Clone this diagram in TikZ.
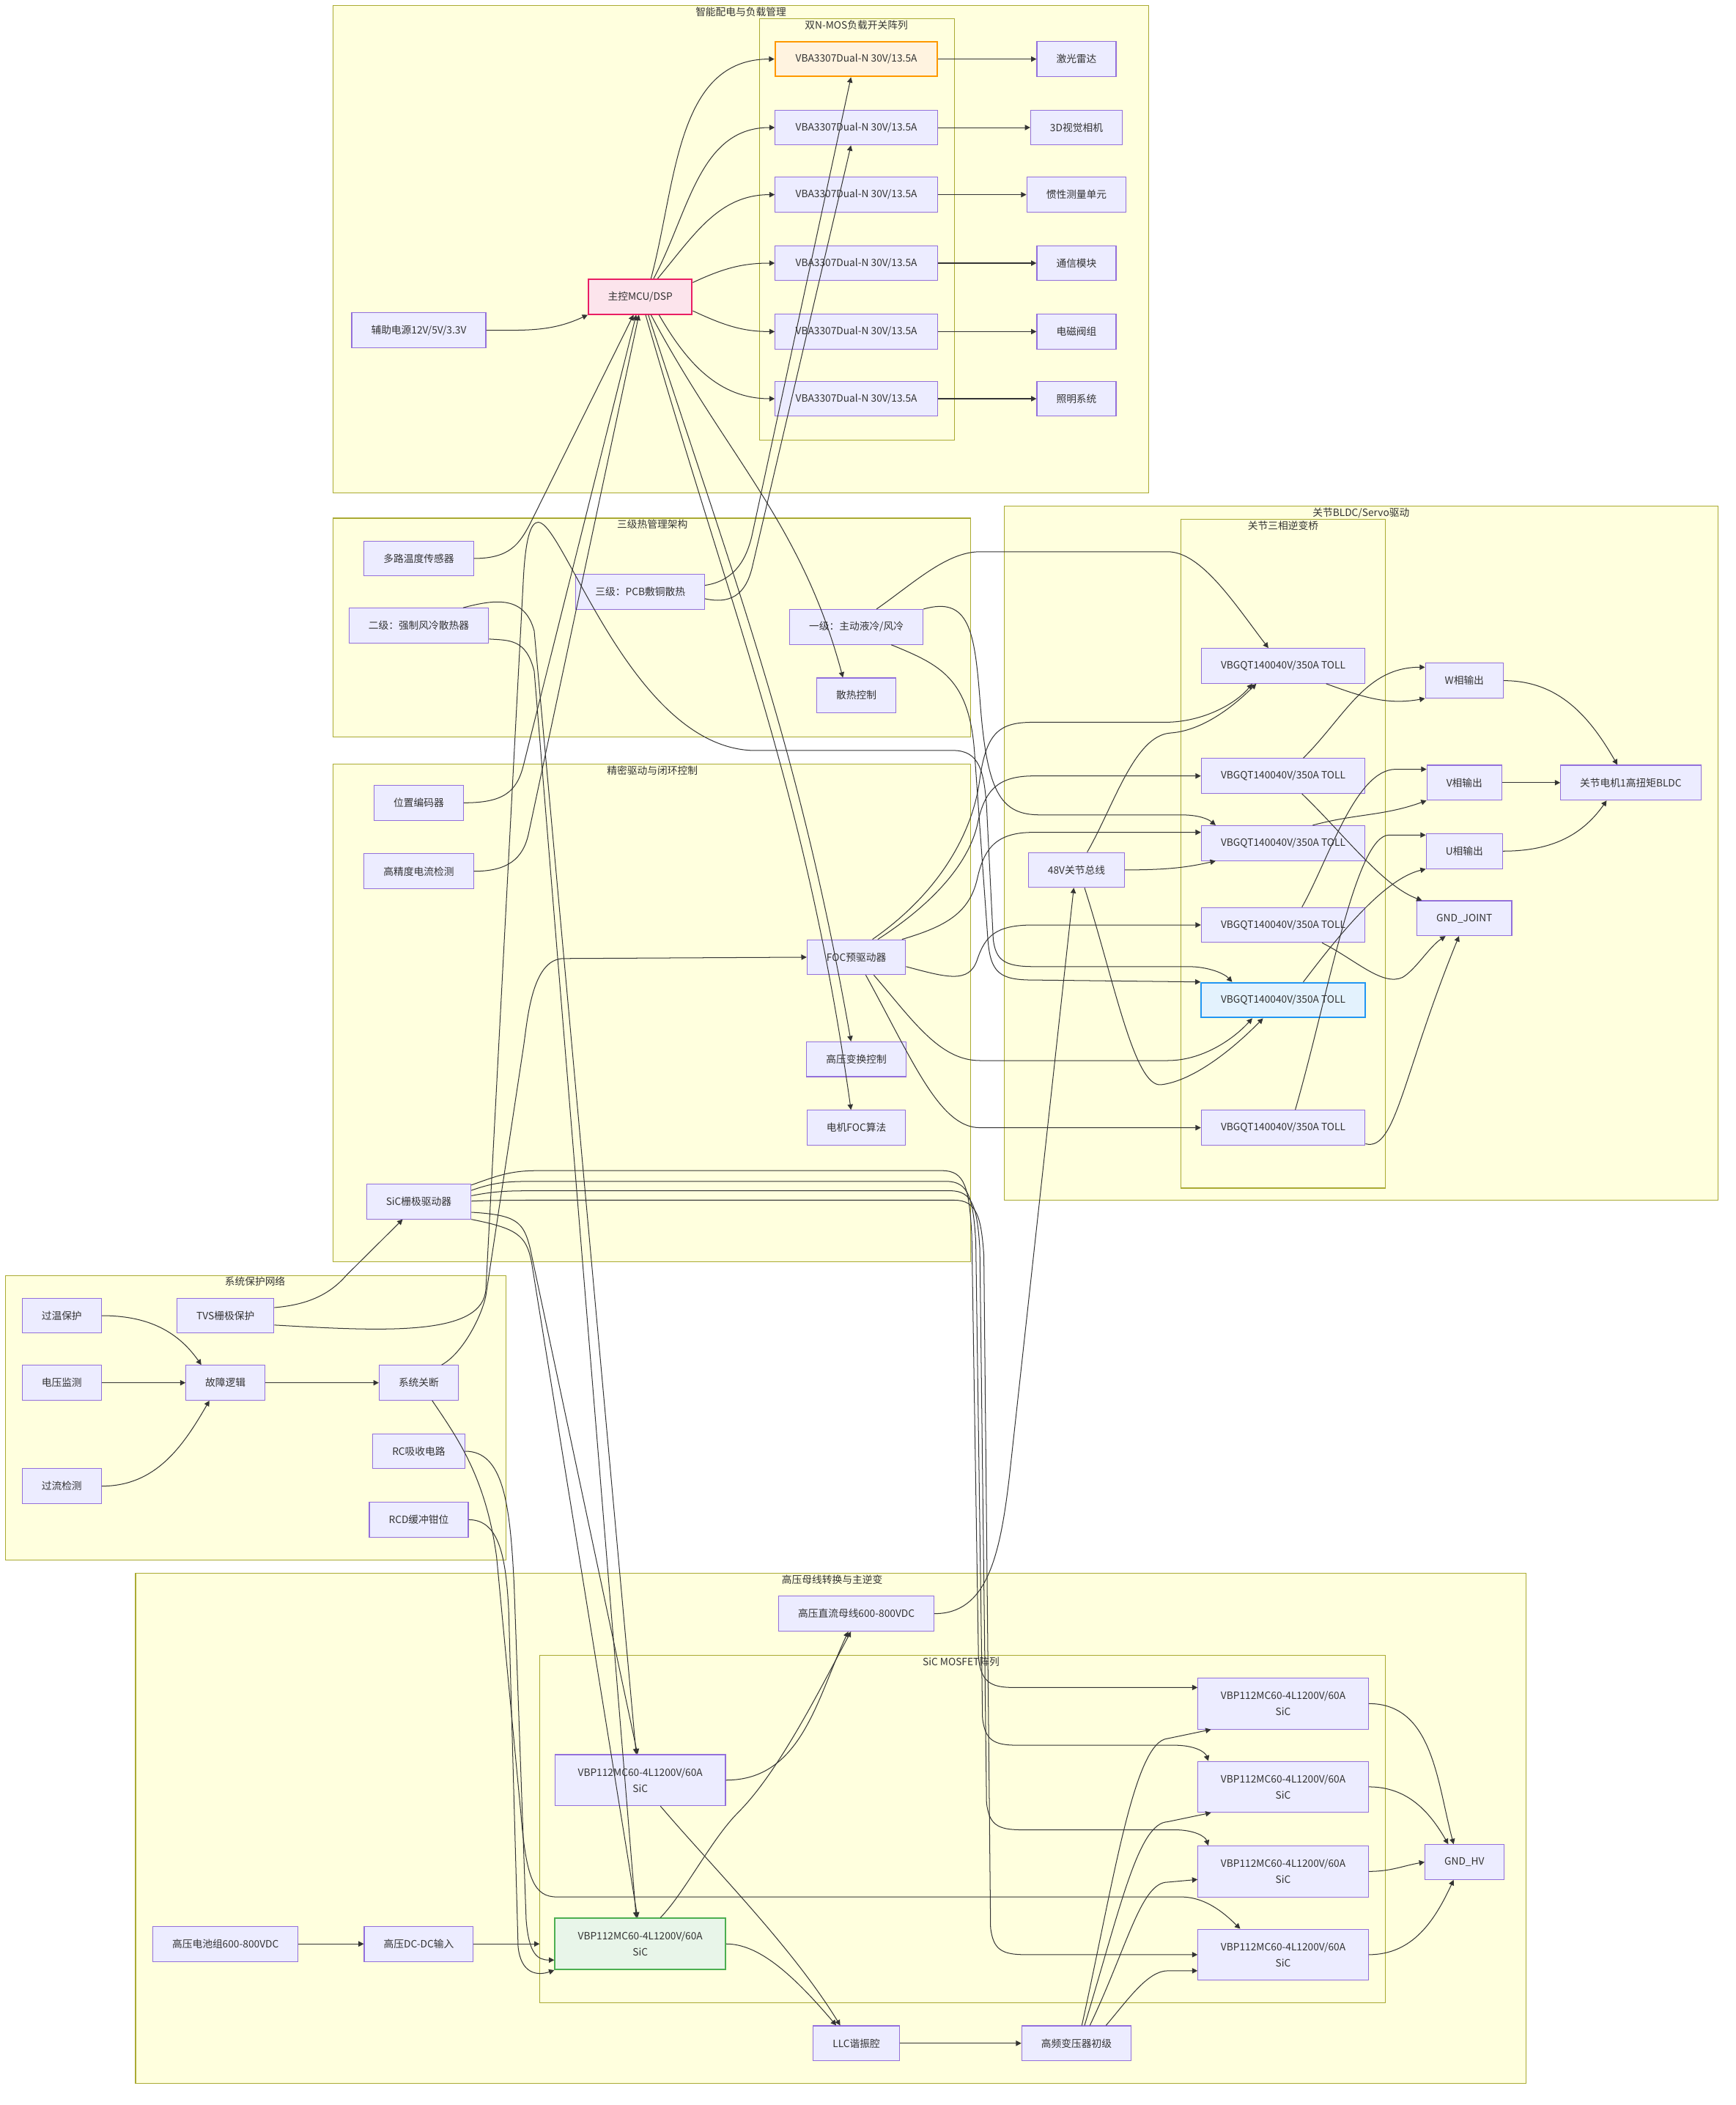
\documentclass[tikz,border=0pt]{standalone}
\usepackage{fontspec}
\setmainfont{Noto Sans CJK SC}
\usetikzlibrary{arrows.meta,positioning,calc}
\definecolor{nodefill}{HTML}{ECECFF}
\definecolor{nodeline}{HTML}{9370DB}
\definecolor{edgeline}{HTML}{333333}
\definecolor{clfill}{HTML}{FFFFDE}
\definecolor{clline}{HTML}{AAAA33}
\definecolor{orgfill}{HTML}{FFF3E0}
\definecolor{orgline}{HTML}{FF9800}
\definecolor{pinkfill}{HTML}{FCE4EC}
\definecolor{pinkline}{HTML}{E91E63}
\definecolor{bluefill}{HTML}{E3F2FD}
\definecolor{blueline}{HTML}{2196F3}
\definecolor{greenfill}{HTML}{E8F5E9}
\definecolor{greenline}{HTML}{4CAF50}

\begin{document}
\begin{tikzpicture}[x=1pt,y=1pt,
    box/.style={draw=nodeline, fill=nodefill, line width=0.6pt, minimum height=26pt,
      inner xsep=14.5pt, text=edgeline, font=\fontsize{7.5}{9}\selectfont},
    sicbox/.style={box, minimum height=38pt, minimum width=127pt, align=center,
      font=\fontsize{7.5}{12}\selectfont},
    fetbox/.style={box, minimum width=122pt},
    swbox/.style={box, minimum width=121pt},
    cluster/.style={draw=clline, fill=clfill, line width=0.6pt},
    cltitle/.style={anchor=north, inner sep=1pt, text=edgeline, font=\fontsize{7.5}{9}\selectfont},
    edge/.style={draw=edgeline, line width=0.55pt, -{Triangle[length=4pt,width=4pt]}}]

    \fill[white] (0,0) rectangle (1293,-1568);
    \useasboundingbox (0,0) rectangle (1293,-1568);

    % Clusters
    \draw[cluster] (248,-4) rectangle (856,-367);
    \node[cltitle] (tpower) at (552,-4) {智能配电与负载管理};
    \draw[cluster] (566,-14) rectangle (711,-328);
    \node[cltitle] (tswitch) at (638,-14) {双N-MOS负载开关阵列};
    \draw[cluster] (248,-386) rectangle (723,-549);
    \node[cltitle] (tthermal) at (486,-386) {三级热管理架构};
    \draw[cluster] (248,-569) rectangle (723,-940);
    \node[cltitle] (tdrive) at (486,-569) {精密驱动与闭环控制};
    \draw[cluster] (4,-950) rectangle (377,-1162);
    \node[cltitle] (tprot) at (190,-950) {系统保护网络};
    \draw[cluster] (748,-377) rectangle (1280,-894);
    \node[cltitle] (tbldc) at (1014,-377) {关节BLDC/Servo驱动};
    \draw[cluster] (880,-387) rectangle (1032,-885);
    \node[cltitle] (tbridge) at (956,-387) {关节三相逆变桥};
    \draw[cluster] (101,-1172) rectangle (1137,-1552);
    \node[cltitle] (thv) at (620,-1172) {高压母线转换与主逆变};
    \draw[cluster] (402,-1233) rectangle (1032,-1492);
    \node[cltitle] (tsic) at (716,-1233) {SiC MOSFET阵列};
    \coordinate (sicin) at (402,-1448);

    % Power distribution
    \node[box, draw=pinkline, fill=pinkfill, line width=1.1pt] (mcu) at (477,-221) {主控MCU/DSP};
    \node[box] (aux) at (312,-246) {辅助电源12V/5V/3.3V};
    \node[swbox, draw=orgline, fill=orgfill, line width=1.1pt] (l1) at (638,-44) {VBA3307Dual-N 30V/13.5A};
    \node[swbox] (l2) at (638,-95) {VBA3307Dual-N 30V/13.5A};
    \node[swbox] (l3) at (638,-145) {VBA3307Dual-N 30V/13.5A};
    \node[swbox] (l4) at (638,-196) {VBA3307Dual-N 30V/13.5A};
    \node[swbox] (l5) at (638,-247) {VBA3307Dual-N 30V/13.5A};
    \node[swbox] (l6) at (638,-297) {VBA3307Dual-N 30V/13.5A};
    \node[box] (lidar) at (802,-44) {激光雷达};
    \node[box] (cam) at (802,-95) {3D视觉相机};
    \node[box] (imu) at (802,-145) {惯性测量单元};
    \node[box] (comm) at (802,-196) {通信模块};
    \node[box] (valve) at (802,-247) {电磁阀组};
    \node[box] (light) at (802,-297) {照明系统};

    % Thermal
    \node[box] (temp) at (312,-416) {多路温度传感器};
    \node[box] (air) at (312,-466) {二级：强制风冷散热器};
    \node[box] (pcb) at (477,-441) {三级：PCB敷铜散热};
    \node[box] (liq) at (638,-467) {一级：主动液冷/风冷};
    \node[box] (coolctl) at (638,-518) {散热控制};

    % Drive and control
    \node[box] (enc) at (312,-598) {位置编码器};
    \node[box] (cur) at (312,-649) {高精度电流检测};
    \node[box] (foc) at (638,-713) {FOC预驱动器};
    \node[box] (hvctl) at (638,-789) {高压变换控制};
    \node[box] (focalg) at (638,-840) {电机FOC算法};
    \node[box] (sicdrv) at (312,-895) {SiC栅极驱动器};

    % Protection
    \node[box] (ovt) at (46,-980) {过温保护};
    \node[box] (tvs) at (168,-980) {TVS栅极保护};
    \node[box] (vmon) at (46,-1030) {电压监测};
    \node[box] (fault) at (168,-1030) {故障逻辑};
    \node[box] (shut) at (312,-1030) {系统关断};
    \node[box] (ocd) at (46,-1107) {过流检测};
    \node[box] (rc) at (312,-1081) {RC吸收电路};
    \node[box] (rcd) at (312,-1132) {RCD缓冲钳位};

    % Joint drive
    \node[fetbox] (j1) at (956,-496) {VBGQT140040V/350A TOLL};
    \node[fetbox] (j2) at (956,-578) {VBGQT140040V/350A TOLL};
    \node[fetbox] (j3) at (956,-628) {VBGQT140040V/350A TOLL};
    \node[fetbox] (j4) at (956,-689) {VBGQT140040V/350A TOLL};
    \node[fetbox, draw=blueline, fill=bluefill, line width=1.1pt] (j5) at (956,-745) {VBGQT140040V/350A TOLL};
    \node[fetbox] (j6) at (956,-840) {VBGQT140040V/350A TOLL};
    \node[box] (wph) at (1091,-507) {W相输出};
    \node[box] (vph) at (1091,-583) {V相输出};
    \node[box] (uph) at (1091,-634) {U相输出};
    \node[box] (gndj) at (1091,-684) {GND\_JOINT};
    \node[box] (motor) at (1215,-583) {关节电机1高扭矩BLDC};
    \node[box] (bus48) at (802,-648) {48V关节总线};

    % High voltage
    \node[box] (hvbus) at (638,-1202) {高压直流母线600-800VDC};
    \node[sicbox] (h1) at (477,-1326) {VBP112MC60-4L1200V/60A\\SiC};
    \node[sicbox, draw=greenline, fill=greenfill, line width=1.1pt] (h2) at (477,-1448) {VBP112MC60-4L1200V/60A\\SiC};
    \node[sicbox] (h3) at (956,-1269) {VBP112MC60-4L1200V/60A\\SiC};
    \node[sicbox] (h4) at (956,-1331) {VBP112MC60-4L1200V/60A\\SiC};
    \node[sicbox] (h5) at (956,-1394) {VBP112MC60-4L1200V/60A\\SiC};
    \node[sicbox] (h6) at (956,-1456) {VBP112MC60-4L1200V/60A\\SiC};
    \node[box] (gndhv) at (1091,-1387) {GND\_HV};
    \node[box] (batt) at (168,-1448) {高压电池组600-800VDC};
    \node[box] (dcdc) at (312,-1448) {高压DC-DC输入};
    \node[box] (llc) at (638,-1522) {LLC谐振腔};
    \node[box] (xfmr) at (802,-1522) {高频变压器初级};

    % Edges: power distribution
    \draw[edge] (aux.east) to[out=0,in=205] (mcu.south west);
    \draw[edge] ([xshift=8pt]mcu.north) to[out=75,in=180] (l1.west);
    \draw[edge] ([xshift=10pt]mcu.north) to[out=62,in=180] (l2.west);
    \draw[edge] ([xshift=13pt]mcu.north) to[out=50,in=180] (l3.west);
    \draw[edge] ([yshift=-3pt]mcu.north east) to[out=25,in=180] (l4.west);
    \draw[edge] ([yshift=3pt]mcu.south east) to[out=-25,in=180] (l5.west);
    \draw[edge] ([xshift=14pt]mcu.south) to[out=-60,in=180] (l6.west);
    \foreach \a/\b in {l1/lidar,l2/cam,l3/imu,l4/comm,l5/valve,l6/light}
      \draw[edge] (\a.east) -- (\b.west);
    \draw[edge] ([yshift=5pt]pcb.east) .. controls (545,-433) and (555,-420) .. (560,-400) -- ([xshift=-4pt]l1.south);
    \draw[edge] ([yshift=-5pt]pcb.east) .. controls (548,-451) and (557,-439) .. (561,-420) -- ([xshift=-4pt]l2.south);

    % Edges: sensing and control
    \draw[edge] (temp.east) .. controls (380,-416) and (387,-405) .. (395,-390) -- ([xshift=-5pt]mcu.south);
    \draw[edge] (enc.east) .. controls (375,-598) and (385,-590) .. (390,-570) -- ([xshift=-3pt]mcu.south);
    \draw[edge] (cur.east) .. controls (378,-649) and (390,-640) .. (394,-620) -- ([xshift=-1pt]mcu.south);
    \draw[edge] ([xshift=8pt]mcu.south) to[out=-62,in=105] ([xshift=-10pt]coolctl.north);
    \draw[edge] ([xshift=6pt]mcu.south) to[out=-72,in=100] ([xshift=-4pt]hvctl.north);
    \draw[edge] ([xshift=4pt]mcu.south) to[out=-74,in=98] ([xshift=-4pt]focalg.north);

    % Edges: cooling
    \draw[edge] ([xshift=15pt]liq.north) .. controls (680,-435) and (705,-411) .. (730,-411) -- (870,-411) .. controls (895,-411) and (920,-450) .. ([xshift=-11pt]j1.north);
    \draw[edge] (liq.north east) .. controls (722,-444) and (726,-470) .. (730,-520) .. controls (735,-590) and (745,-607) .. (775,-607) -- (880,-607) .. controls (893,-607) and (900,-610) .. ([xshift=11pt]j3.north west);
    \draw[edge] ([xshift=26pt]liq.south) .. controls (700,-495) and (722,-505) .. (726,-560) -- (736,-700) .. controls (738,-725) and (745,-730) .. (770,-730) -- (j5.north west);
    \draw[edge] ([xshift=33pt]air.north) .. controls (370,-446) and (391,-444) .. (398,-470) -- ([xshift=-3pt]h1.north);
    \draw[edge] ([yshift=-10pt]air.east) .. controls (380,-477) and (392,-476) .. (398,-500) -- ([xshift=-3pt]h2.north);

    % Edges: protection
    \draw[edge] (ovt.east) to[out=0,in=125] ([xshift=-18pt]fault.north);
    \draw[edge] (vmon.east) -- (fault.west);
    \draw[edge] (ocd.east) to[out=0,in=-120] ([xshift=-12pt]fault.south);
    \draw[edge] (fault.east) -- (shut.west);
    \draw[edge] ([yshift=6pt]tvs.east) .. controls (228,-972) and (245,-965) .. (258,-950) -- ([xshift=-12pt]sicdrv.south);
    \draw[edge] ([yshift=-7pt]tvs.east) .. controls (290,-992) and (360,-995) .. (362,-960) -- (390,-430) .. controls (391.5,-403) and (395,-389) .. (401,-389) .. controls (420,-389) and (470,-555) .. (560,-559) -- (710,-559) .. controls (730,-559) and (733,-575) .. (735,-600) -- (740,-700) .. controls (742,-715) and (748,-720) .. (770,-720) -- (885,-720) .. controls (900,-720) and (912,-725) .. ([xshift=-38pt]j5.north);
    \draw[edge] ([xshift=17pt]shut.north) .. controls (345,-1008) and (359,-980) .. (362,-965) -- (390,-780) .. controls (393,-760) and (396,-714) .. (420,-714) -- (foc.west);
    \draw[edge] ([xshift=10pt]shut.south) .. controls (340,-1070) and (362,-1100) .. (370,-1160) -- (388,-1350) .. controls (392,-1400) and (398,-1413) .. (415,-1413) -- (880,-1413) .. controls (900,-1413) and (915,-1428) .. ([xshift=-32pt]h6.north);
    \draw[edge] (rc.east) .. controls (375,-1081) and (380,-1120) .. (383,-1180) -- (392,-1430) .. controls (394,-1455) and (400,-1460) .. ([yshift=-12pt]h2.west);
    \draw[edge] (rcd.east) .. controls (372,-1132) and (377,-1160) .. (379,-1200) -- (386,-1450) .. controls (388,-1470) and (400,-1472) .. (h2.south west);

    % Edges: FOC to bridge
    \draw[edge] ([xshift=12pt]foc.north) .. controls (700,-665) and (725,-620) .. (730,-580) .. controls (735,-545) and (745,-538) .. (770,-538) -- (868,-538) .. controls (895,-538) and (920,-525) .. ([xshift=-23pt]j1.south);
    \draw[edge] ([xshift=16pt]foc.north) .. controls (700,-670) and (722,-640) .. (728,-615) .. controls (733,-590) and (742,-578) .. (770,-578) -- (j2.west);
    \draw[edge] ([xshift=-3pt]foc.north east) .. controls (705,-690) and (722,-680) .. (728,-655) .. controls (733,-632) and (742,-620) .. (770,-620) -- ([yshift=8pt]j3.west);
    \draw[edge] ([yshift=-7pt]foc.east) .. controls (705,-728) and (722,-733) .. (728,-715) .. controls (734,-697) and (742,-689) .. (770,-689) -- (j4.west);
    \draw[edge] ([xshift=13pt]foc.south) .. controls (680,-760) and (700,-790) .. (730,-790) -- (870,-790) .. controls (895,-790) and (918,-775) .. ([xshift=-23pt]j5.south);
    \draw[edge] ([xshift=7pt]foc.south) .. controls (680,-790) and (700,-840) .. (730,-840) -- (j6.west);

    % Edges: joint bus and phases
    \draw[edge] ([xshift=8pt]bus48.north) .. controls (830,-600) and (845,-548) .. (872,-546) .. controls (900,-544) and (925,-520) .. ([xshift=-20pt]j1.south);
    \draw[edge] (bus48.east) .. controls (870,-648) and (885,-646) .. ([xshift=11pt]j3.south west);
    \draw[edge] ([xshift=6pt]bus48.south) .. controls (830,-730) and (845,-810) .. (865,-808) .. controls (890,-805) and (920,-780) .. ([xshift=-15pt]j5.south);
    \draw[edge] ([xshift=32pt]j1.south) to[out=-20,in=190] (wph.south west);
    \draw[edge] ([xshift=15pt]j2.north) to[out=45,in=180] ([yshift=10pt]wph.west);
    \draw[edge] ([xshift=22pt]j3.north) to[out=15,in=200] (vph.south west);
    \draw[edge] ([xshift=14pt]j4.north) .. controls (990,-640) and (1010,-573) .. (1040,-573) -- ([yshift=10pt]vph.west);
    \draw[edge] ([xshift=15pt]j5.north) .. controls (995,-700) and (1030,-655) .. (uph.south west);
    \draw[edge] ([xshift=9pt]j6.north) .. controls (990,-740) and (1010,-622) .. (1035,-622) -- ([yshift=12pt]uph.west);
    \draw[edge] ([xshift=14pt]j2.south) .. controls (1000,-620) and (1030,-660) .. ([xshift=4pt]gndj.north west);
    \draw[edge] ([xshift=29pt]j4.south) .. controls (1010,-715) and (1030,-735) .. (1045,-728) .. controls (1055,-722) and (1065,-705) .. ([xshift=-14pt]gndj.south);
    \draw[edge] ([yshift=-12pt]j6.east) .. controls (1040,-858) and (1045,-800) .. ([xshift=-4pt]gndj.south);
    \draw[edge] (wph.east) to[out=0,in=120] ([xshift=-10pt]motor.north);
    \draw[edge] (vph.east) -- (motor.west);
    \draw[edge] (uph.east) to[out=0,in=-125] ([xshift=-18pt]motor.south);
    \draw[edge] (hvbus.east) .. controls (735,-1202) and (745,-1160) .. (752,-1100) -- ([xshift=-2pt]bus48.south);

    % Edges: gate driver to SiC
    \draw[edge] ([yshift=-8pt]sicdrv.east) .. controls (385,-905) and (390,-910) .. (395,-930) -- ([xshift=-2pt]h1.north);
    \draw[edge] (sicdrv.south east) .. controls (385,-915) and (392,-920) .. (396,-940) -- ([xshift=-2pt]h2.north);
    \draw[edge] ([yshift=-1pt]sicdrv.north east) .. controls (370,-876) and (380,-872) .. (400,-872) -- (702,-872) .. controls (719,-872) and (722,-885) .. (724,-920) -- (729,-1235) .. controls (731,-1252) and (737,-1257) .. (755,-1257) -- ([yshift=12pt]h3.west);
    \draw[edge] ([yshift=-5pt]sicdrv.north east) .. controls (370,-880) and (380,-880) .. (400,-880) -- (705,-880) .. controls (722,-880) and (725,-893) .. (727,-925) -- (732,-1280) .. controls (734,-1296) and (740,-1300) .. (758,-1300) -- (875,-1300) .. controls (890,-1300) and (898,-1305) .. ([xshift=8pt]h4.north west);
    \draw[edge] ([yshift=-9pt]sicdrv.north east) .. controls (370,-887) and (380,-887) .. (400,-887) -- (708,-887) .. controls (725,-887) and (728,-900) .. (730,-930) -- (735,-1343) .. controls (737,-1359) and (743,-1363) .. (761,-1363) -- (875,-1363) .. controls (890,-1363) and (898,-1368) .. ([xshift=8pt]h5.north west);
    \draw[edge] ([yshift=-13pt]sicdrv.north east) .. controls (370,-894) and (380,-894) .. (400,-894) -- (711,-894) .. controls (728,-894) and (731,-907) .. (733,-935) -- (738,-1436) .. controls (740,-1452) and (746,-1456) .. (764,-1456) -- (h6.west);

    % Edges: high voltage path
    \draw[edge] (batt.east) -- (dcdc.west);
    \draw[edge] (dcdc.east) -- (sicin);
    \draw[edge] (h1.east) to[out=0,in=-115] ([xshift=-6pt]hvbus.south);
    \draw[edge] ([xshift=15pt]h2.north) .. controls (510,-1410) and (530,-1370) .. (550,-1350) .. controls (580,-1320) and (610,-1260) .. ([xshift=-4pt]hvbus.south);
    \draw[edge] ([xshift=15pt]h1.south) .. controls (530,-1390) and (590,-1450) .. ([xshift=-12pt]llc.north);
    \draw[edge] (h2.east) .. controls (565,-1448) and (590,-1470) .. ([xshift=-15pt]llc.north);
    \draw[edge] (llc.east) -- (xfmr.west);
    \draw[edge] ([xshift=4pt]xfmr.north) .. controls (830,-1400) and (845,-1297) .. (870,-1295) -- ([xshift=10pt]h3.south west);
    \draw[edge] ([xshift=6pt]xfmr.north) .. controls (835,-1420) and (848,-1358) .. (870,-1357) -- ([xshift=10pt]h4.south west);
    \draw[edge] ([xshift=10pt]xfmr.north) .. controls (840,-1450) and (850,-1402) .. (870,-1402) -- ([yshift=-6pt]h5.west);
    \draw[edge] ([xshift=22pt]xfmr.north) .. controls (840,-1490) and (855,-1468) .. (870,-1468) -- ([yshift=-12pt]h6.west);
    \draw[edge] (h3.east) to[out=0,in=105] ([xshift=-8pt]gndhv.north);
    \draw[edge] (h4.east) to[out=0,in=120] ([xshift=-12pt]gndhv.north);
    \draw[edge] (h5.east) to[out=0,in=190] (gndhv.west);
    \draw[edge] (h6.east) to[out=0,in=-115] ([xshift=-8pt]gndhv.south);

\end{tikzpicture}
\end{document}
